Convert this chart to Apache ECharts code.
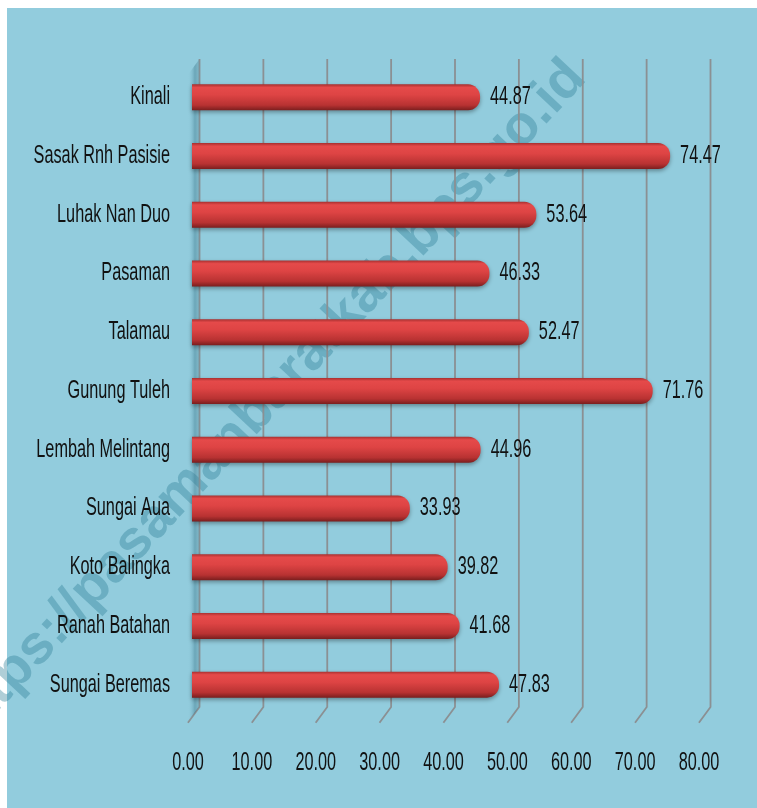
<!DOCTYPE html>
<html>
<head>
<meta charset="utf-8">
<script src="https://cdn.jsdelivr.net/npm/echarts@6/dist/echarts.min.js"></script>
<style>
  html, body { margin: 0; padding: 0; background: #fff; }
  #main { width: 757px; height: 808px; }
</style>
</head>
<body>
<div id="main"></div>
<script>
// data (top to bottom as in the picture)
const categories = ['Kinali', 'Sasak Rnh Pasisie', 'Luhak Nan Duo', 'Pasaman', 'Talamau',
  'Gunung Tuleh', 'Lembah Melintang', 'Sungai Aua', 'Koto Balingka', 'Ranah Batahan', 'Sungai Beremas']
const values = [44.87, 74.47, 53.64, 46.33, 52.47, 71.76, 44.96, 33.93, 39.82, 41.68, 47.83]
const ticks = [0, 10, 20, 30, 40, 50, 60, 70, 80]

// the original font is tall and narrow, so regular text gets squeezed
const FONT = "25px 'Liberation Sans', Arial, sans-serif"
const SQUEEZE = 0.65
const BG = '#92CCDD'

let chart = echarts.init(document.getElementById('main'))

function narrowText(x, y, text, align) {
  return {
    type: 'text', x: x, y: y, scaleX: SQUEEZE,
    style: { text: text, font: FONT, fill: '#111', align: align, verticalAlign: 'middle' }
  }
}

// back wall grid lines with the little slanted foot toward the viewer
function renderGridLine(params, api) {
  let top = api.coord([api.value(0), 1])
  let bottom = api.coord([api.value(0), 0])
  return {
    type: 'polyline',
    shape: { points: [top, bottom, [bottom[0] - 11.6, bottom[1] + 15.7]] },
    style: { stroke: '#8B9093', lineWidth: 1.8, fill: null }
  }
}

// side wall shading at the zero line
function renderWall(params, api) {
  let top = api.coord([0, 1])
  let bottom = api.coord([0, 0])
  return {
    type: 'polygon',
    shape: {
      points: [
        [top[0] - 11.6, top[1] + 15.7], [top[0], top[1]],
        [bottom[0], bottom[1]], [bottom[0] - 11.6, bottom[1] + 15.7]
      ]
    },
    style: {
      fill: new echarts.graphic.LinearGradient(0, 0, 1, 0, [
        { offset: 0, color: 'rgba(146,204,221,0)' },
        { offset: 0.6, color: 'rgba(60,120,140,0.45)' },
        { offset: 1, color: 'rgba(90,140,155,0.3)' }
      ])
    }
  }
}

function renderCategoryLabel(params, api) {
  let p = api.coord([0, api.value(1)])
  return narrowText(p[0] - 22, p[1], categories[params.dataIndex], 'right')
}

function renderValueLabel(params, api) {
  let p = api.coord([api.value(0), api.value(1)])
  return narrowText(p[0] + 10, p[1], api.value(0).toFixed(2), 'left')
}

function renderTickLabel(params, api) {
  let p = api.coord([api.value(0), 0])
  return narrowText(p[0], p[1] + 41, api.value(0).toFixed(2), 'center')
}

let option = {
  backgroundColor: '#fff',
  animation: false,
  graphic: [
    {
      type: 'rect', z: -10, silent: true,
      shape: { x: 7, y: 8, width: 760, height: 810 },
      style: { fill: BG }
    },
    {
      type: 'text', z: -5, silent: true,
      x: 266, y: 402, rotation: 0.82,
      style: {
        text: 'https://pasamanbaratkab.bps.go.id',
        font: "bold 55px 'Liberation Sans', Arial, sans-serif",
        fill: 'rgba(45,125,150,0.38)',
        align: 'center', verticalAlign: 'middle'
      }
    }
  ],
  grid: [
    // bars
    { left: 192, width: 513.6, top: 68, height: 646 },
    // back wall
    { left: 199.5, width: 511, top: 59, height: 648 },
    // front edge, used for tick labels
    { left: 188, width: 511, top: 59, height: 663 }
  ],
  xAxis: [0, 1, 2].map(i => ({
    gridIndex: i, type: 'value', min: 0, max: 80, interval: 10,
    axisLine: { show: false }, axisTick: { show: false },
    axisLabel: { show: false }, splitLine: { show: false }
  })),
  yAxis: [
    {
      gridIndex: 0, type: 'category', data: categories, inverse: true,
      axisLine: { show: false }, axisTick: { show: false }, axisLabel: { show: false }
    },
    { gridIndex: 1, type: 'value', min: 0, max: 1, show: false },
    { gridIndex: 2, type: 'value', min: 0, max: 1, show: false }
  ],
  series: [
    {
      type: 'custom', xAxisIndex: 1, yAxisIndex: 1, z: 1,
      renderItem: renderWall, data: [[0]], silent: true
    },
    {
      type: 'custom', xAxisIndex: 1, yAxisIndex: 1, z: 0,
      renderItem: renderGridLine, data: ticks.map(t => [t]), silent: true
    },
    {
      type: 'bar', xAxisIndex: 0, yAxisIndex: 0, z: 5,
      data: values,
      barWidth: 26,
      itemStyle: {
        borderRadius: [0, 12, 12, 0],
        color: new echarts.graphic.LinearGradient(0, 0, 0, 1, [
          { offset: 0, color: '#A83030' },
          { offset: 0.12, color: '#E54A4A' },
          { offset: 0.4, color: '#DE4444' },
          { offset: 0.8, color: '#B83232' },
          { offset: 1, color: '#7A1E1E' }
        ]),
        shadowColor: 'rgba(0,0,0,0.35)',
        shadowBlur: 4,
        shadowOffsetY: 2
      }
    },
    {
      type: 'custom', xAxisIndex: 0, yAxisIndex: 0, z: 6, silent: true,
      renderItem: renderCategoryLabel, data: categories.map((c, i) => [0, i])
    },
    {
      type: 'custom', xAxisIndex: 0, yAxisIndex: 0, z: 6, silent: true,
      renderItem: renderValueLabel, data: values.map((v, i) => [v, i])
    },
    {
      type: 'custom', xAxisIndex: 2, yAxisIndex: 2, z: 6, silent: true,
      renderItem: renderTickLabel, data: ticks.map(t => [t])
    }
  ]
}

chart.setOption(option)
</script>
</body>
</html>
